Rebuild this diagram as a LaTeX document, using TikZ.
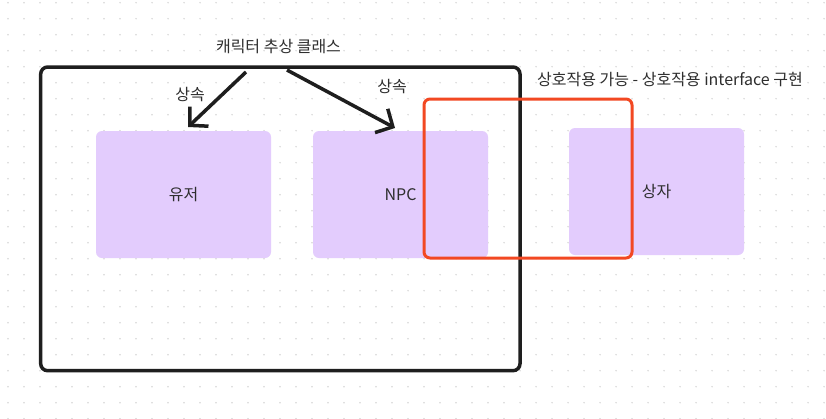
\documentclass[tikz,border=0pt]{standalone}
\usepackage{fontspec}
\newfontfamily\kr{Noto Sans CJK KR}
\usetikzlibrary{arrows.meta}
\definecolor{boxfill}{HTML}{E3CCFD}
\definecolor{redline}{HTML}{F24822}
\definecolor{darkline}{HTML}{1E1E1E}
\definecolor{txt}{HTML}{2E2E2E}
\definecolor{dotc}{HTML}{D6D6D6}
\tikzset{
  purplebox/.style={fill=boxfill, draw=none, rounded corners=6pt, minimum width=175pt, minimum height=127pt, inner sep=0pt, outer sep=0pt, font=\kr\fontsize{16}{19}\selectfont, text=txt},
  framebox/.style={draw=darkline, line width=3.5pt, rounded corners=7pt, inner sep=0pt, outer sep=0pt},
  redbox/.style={draw=redline, line width=3pt, rounded corners=6pt, inner sep=0pt, outer sep=0pt},
  lbl/.style={font=\kr\fontsize{16}{19}\selectfont, text=txt, inner sep=0pt},
  inherit/.style={draw=darkline, line width=3.5pt, -{Straight Barb[length=13pt, width=27pt, line width=3.5pt]}}
}
\begin{document}
\begin{tikzpicture}[x=1pt, y=-1pt]
\useasboundingbox[fill=white] (0,0) rectangle (826,418);
% dot grid
\foreach \i in {0,...,51} {
  \foreach \j in {0,...,26} {
    \fill[dotc] ({8+16*\i},{2.7+16*\j}) circle (0.8pt);
  }
}
% purple boxes
\node[purplebox] (user) at (183.5,194.5) {유저};
\node[purplebox] (npc) at (400.5,194.5) {NPC};
\node[purplebox] (box) at (656.5,191.5) {상자};
% frames
\node[framebox, minimum width=479.3pt, minimum height=303.7pt] (frame) at (280.35,218.85) {};
\node[redbox, minimum width=208pt, minimum height=159pt] (red) at (528,178.5) {};
% labels
\node[lbl] (title) at (278.5,47) {캐릭터 추상 클래스};
\node[lbl] (inh1) at (190,95) {상속};
\node[lbl] (inh2) at (392,87) {상속};
\node[lbl, anchor=west] (iface) at (537,80) {상호작용 가능 - 상호작용 interface 구현};
% arrows
\coordinate (a1s) at (246,72);
\coordinate (a1e) at (188,127);
\coordinate (a2s) at (287,70);
\coordinate (a2e) at (395,128);
\draw[inherit] (a1s) -- (a1e);
\draw[inherit] (a2s) -- (a2e);
\end{tikzpicture}
\end{document}
